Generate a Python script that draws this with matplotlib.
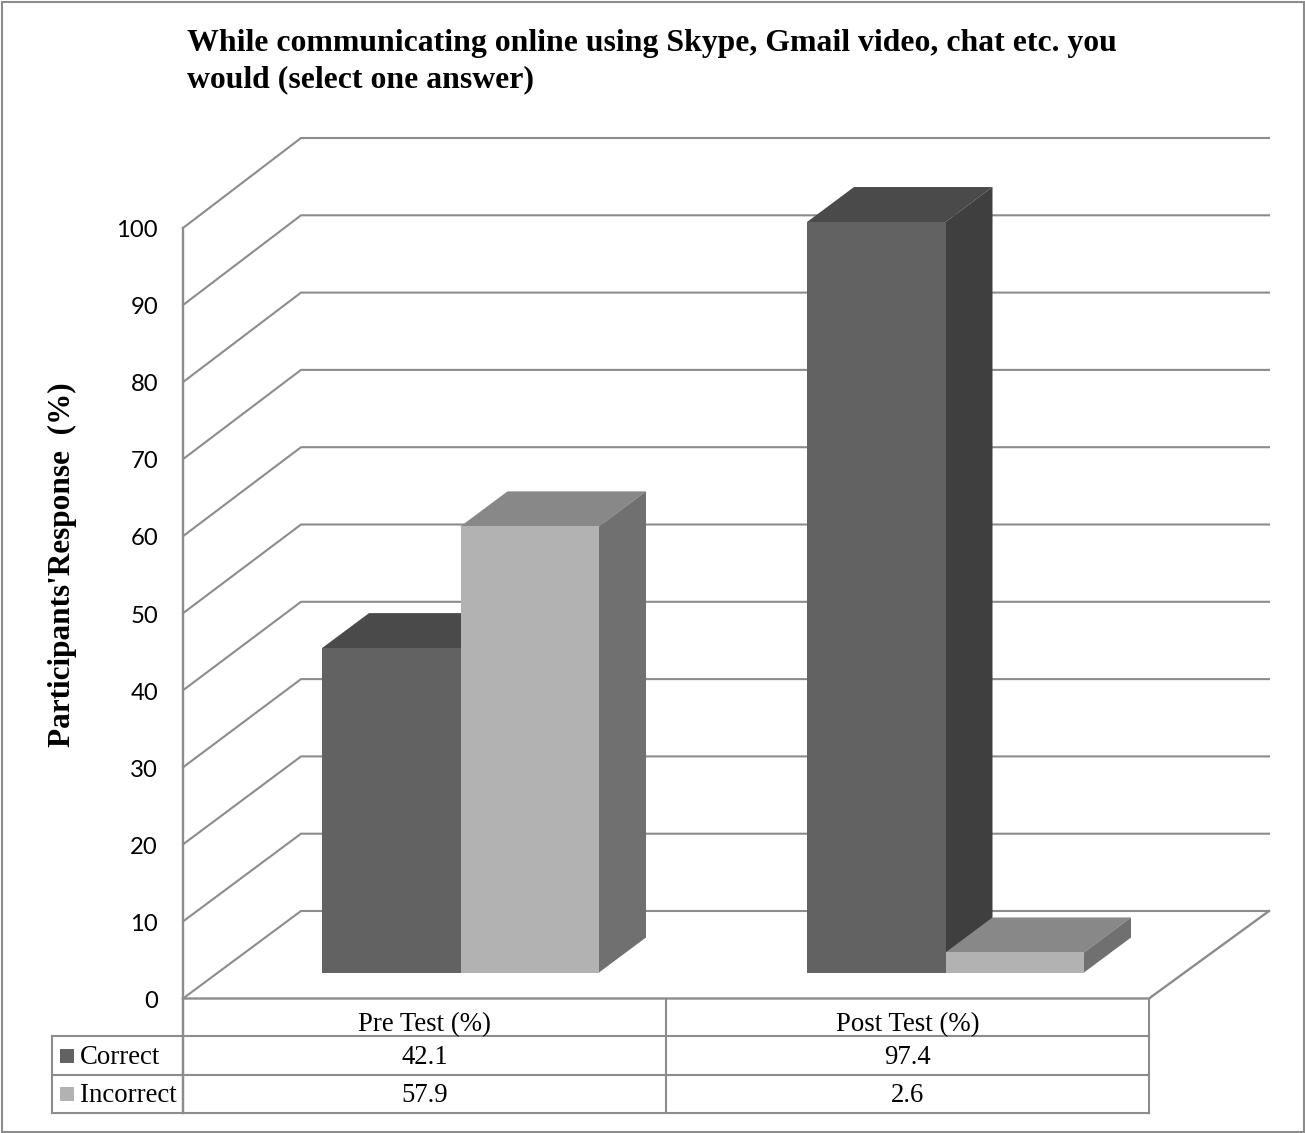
import matplotlib
matplotlib.use("Agg")
import matplotlib.pyplot as plt
from matplotlib.patches import Polygon, Rectangle

# Survey results, percent of participants
groups = ["Pre Test (%)", "Post Test (%)"]
series_names = ["Correct", "Incorrect"]
correct = [42.1, 97.4]
incorrect = [57.9, 2.6]
y_ticks = [0, 10, 20, 30, 40, 50, 60, 70, 80, 90, 100]
title_text = "While communicating online using Skype, Gmail video, chat etc. you\nwould (select one answer)"
y_label = "Participants'Response  (%)"

W, H = 1305, 1133
UNIT = 7.705         # pixels per percentage point
FRONT_Y = 998.5      # pixel row of the zero line on the front plane
GRID = "#8c8c8c"
SERIF = "Liberation Serif"


def v(row):
    """Pixel row to value units."""
    return (FRONT_Y - row) / UNIT


fig = plt.figure(figsize=(W / 100, H / 100), dpi=100)
ax = fig.add_axes([0, 0, 1, 1])
ax.set_xlim(0, W)
ax.set_ylim(v(H), v(0))
ax.axis("off")

# Outer frame of the chart area
ax.add_patch(Rectangle((2, v(1132)), W - 3, v(2) - v(1132), fill=False, ec=GRID, lw=1.5))

# Walls and gridlines of the 3D box; the back wall is very slightly taller
X0, X_BACK, X_END = 183, 301, 1269
BACK_ZERO = v(911)
BACK_SCALE = 7.73 / UNIT
for t in y_ticks:
    back = BACK_ZERO + t * BACK_SCALE
    ax.plot([X0, X_BACK, X_END], [t, back, back], color=GRID, lw=1.5, zorder=1,
            solid_joinstyle="miter")
ax.plot([X0, X0], [v(1113), 100], color=GRID, lw=1.7, zorder=2)
ax.plot([X0, 1149, X_END], [0, 0, BACK_ZERO], color=GRID, lw=1.7, zorder=2, solid_joinstyle="miter")

# Bars with their top and side faces
BASE = (FRONT_Y - 972.5) / UNIT
BAR_W = 138.5
DX, DY = 47, 35 / UNIT
palette = {
    "Correct": ("#626262", "#4a4a4a", "#3f3f3f"),
    "Incorrect": ("#b2b2b2", "#888888", "#707070"),
}
starts = [322, 807]


def bar3d(x, value, name, z):
    front, top, side = palette[name]
    ax.bar(x, value, width=BAR_W, bottom=BASE, align="edge", color=front, lw=0, zorder=z + 0.2)
    y1 = BASE + value
    ax.add_patch(Polygon([(x, y1), (x + DX, y1 + DY), (x + BAR_W + DX, y1 + DY), (x + BAR_W, y1)],
                         fc=top, lw=0, zorder=z))
    ax.add_patch(Polygon([(x + BAR_W, BASE), (x + BAR_W + DX, BASE + DY),
                          (x + BAR_W + DX, y1 + DY), (x + BAR_W, y1)],
                         fc=side, lw=0, zorder=z))


for i, x in enumerate(starts):
    bar3d(x, correct[i], "Correct", 3 + i)
    bar3d(x + BAR_W, incorrect[i], "Incorrect", 3.5 + i)

# Value axis labels
for t in y_ticks:
    ax.text(158, t - 0.1, str(t), ha="right", va="center_baseline", fontsize=17.2,
            family="Lato", color="black")
ax.text(62, v(565), y_label, rotation=90, ha="center", va="center", fontsize=22.5,
        family=SERIF, weight="bold", color="black")

# Title
ax.text(187, v(61.5), title_text, ha="left", va="center", fontsize=22.9, family=SERIF,
        weight="bold", color="black", linespacing=1.36)

# Data table under the plot
rows = [1036, 1075, 1113]
cols = [183, 666, 1149]
LEFT = 52
for r in rows:
    ax.plot([LEFT, 1149], [v(r)] * 2, color=GRID, lw=1.5, zorder=2)
ax.plot([LEFT, LEFT], [v(rows[0]), v(rows[2])], color=GRID, lw=1.5, zorder=2)
for c in cols:
    ax.plot([c, c], [0, v(rows[2])], color=GRID, lw=1.5, zorder=2)

centers = [(cols[0] + cols[1]) / 2, (cols[1] + cols[2]) / 2]
for cx, g, a, b in zip(centers, groups, correct, incorrect):
    ax.text(cx, v(1025), g, ha="center", va="center", fontsize=19.3, family=SERIF, color="black")
    ax.text(cx, v(1058), f"{a:.1f}", ha="center", va="center", fontsize=19.3, family=SERIF, color="black")
    ax.text(cx, v(1096), f"{b:.1f}", ha="center", va="center", fontsize=19.3, family=SERIF, color="black")

for name, row in zip(series_names, [1056, 1094]):
    ax.add_patch(Rectangle((60, v(row + 7)), 14, 14 / UNIT, fc=palette[name][0], lw=0, zorder=3))
    ax.text(80, v(row + 2), name, ha="left", va="center", fontsize=19.3, family=SERIF, color="black")

fig.savefig("out.png", dpi=100)
